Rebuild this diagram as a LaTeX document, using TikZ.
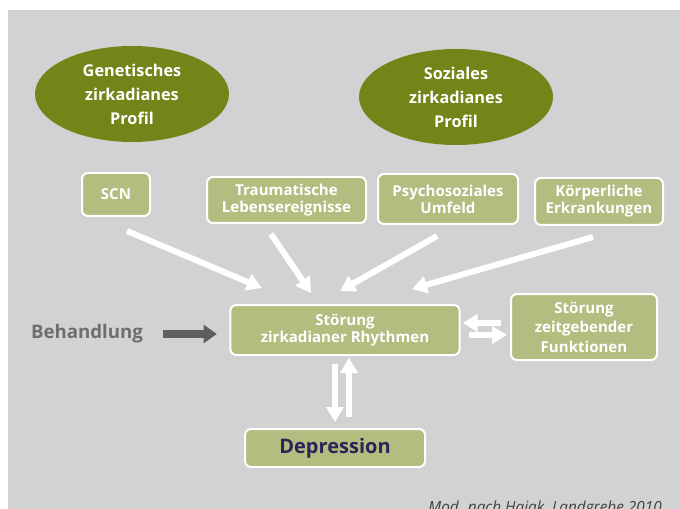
\documentclass[tikz,border=0pt]{standalone}
\usepackage{fontspec}
\setmainfont{Open Sans}
\usetikzlibrary{arrows.meta,shapes.geometric}
\definecolor{bggray}{HTML}{D1D2D4}
\definecolor{profilgreen}{HTML}{738419}
\definecolor{boxgreen}{HTML}{B4BC80}
\definecolor{depnavy}{HTML}{2A2459}
\definecolor{textgray}{HTML}{6D6E70}
\definecolor{arrowgray}{HTML}{5D5E60}
\definecolor{faintline}{HTML}{DDD4B2}

\begin{document}
\begin{tikzpicture}[x=0.75pt, y=-0.75pt,
  profil/.style={ellipse, fill=profilgreen, text=white, font=\bfseries\fontsize{12.2}{18}\selectfont, align=center, minimum width=145.5pt, minimum height=72pt, inner sep=0pt},
  faktor/.style={rectangle, rounded corners=4.5pt, draw=white, line width=1.5pt, fill=boxgreen, text=white, font=\bfseries\fontsize{11.3}{12.75}\selectfont, align=center, inner sep=0pt},
  pfeil/.style={white, line width=4.5pt, -{Triangle[width=12.75pt,length=11.25pt]}},
  pfeilgrau/.style={arrowgray, line width=6pt, -{Triangle[width=13.5pt,length=10pt]}}]
\useasboundingbox (0, 0) rectangle (680, 509);
\fill[bggray] (8, 10) rectangle (680, 509);
%Profile
\node[profil] (genetisch) at (132, 94) {Genetisches\\zirkadianes\\Profil};
\node[profil] (sozial) at (456, 97) {Soziales\\zirkadianes\\Profil};
%Faktoren
\node[faktor, minimum width=51pt, minimum height=32.25pt] (scn) at (116, 194.5) {SCN};
\node[faktor, minimum width=119.25pt, minimum height=34.5pt] (trauma) at (286.5, 200) {Traumatische\\Lebensereignisse};
\node[faktor, minimum width=105pt, minimum height=37.5pt] (umfeld) at (448, 199) {Psychosoziales\\Umfeld};
\node[faktor, minimum width=96pt, minimum height=35.25pt] (koerper) at (599, 201.5) {Körperliche\\Erkrankungen};
\node[faktor, minimum width=172pt, minimum height=37.5pt] (rhythmus) at (345, 330) {Störung\\zirkadianer Rhythmen};
\node[faktor, minimum width=109.5pt, minimum height=49.5pt, font=\bfseries\fontsize{11.3}{14.6}\selectfont] (zeitgeber) at (584, 327) {Störung\\zeitgebender\\Funktionen};
\node[faktor, minimum width=135pt, minimum height=28.5pt, text=depnavy, font=\bfseries\fontsize{15}{18}\selectfont] (depression) at (335, 448) {Depression};
\node[text=textgray, font=\bfseries\fontsize{14}{16}\selectfont, inner sep=0pt] (behandlung) at (87, 334) {Behandlung};
\node[anchor=base east, text=black!75, font=\itshape\fontsize{11.5}{13}\selectfont, inner sep=0pt] (quelle) at (662, 512) {Mod. nach Hajak, Landgrebe 2010};
\draw[faintline, dashed, line width=0.5pt] (163, 310) -- (163, 355);
%Pfeile
\draw[pfeil] ([shift={(11, 14)}]scn.south) -- ([shift={(32.5, -16)}]rhythmus.north west);
\draw[pfeil] ([shift={(-15.5, 10)}]trauma.south) -- ([shift={(-34, -11)}]rhythmus.north);
\draw[pfeil] ([shift={(-11, 11)}]umfeld.south) -- ([shift={(-5, -13)}]rhythmus.north);
\draw[pfeil] ([shift={(-6, 11)}]koerper.south) -- ([shift={(67, -15)}]rhythmus.north);
\draw[pfeilgrau] ([shift={(20, 0)}]behandlung.east) -- ([shift={(-12.5, 4)}]rhythmus.west);
\draw[pfeil] ([shift={(-9, -4)}]zeitgeber.west) -- ([shift={(2, -7)}]rhythmus.east);
\draw[pfeil] ([shift={(8, 5)}]rhythmus.east) -- ([shift={(-3, 8)}]zeitgeber.west);
\draw[pfeil] ([shift={(-10, 8)}]rhythmus.south) -- ([shift={(0, -6)}]depression.north);
\draw[pfeil] ([shift={(14, -11)}]depression.north) -- ([shift={(4, 2)}]rhythmus.south);
\end{tikzpicture}
\end{document}
